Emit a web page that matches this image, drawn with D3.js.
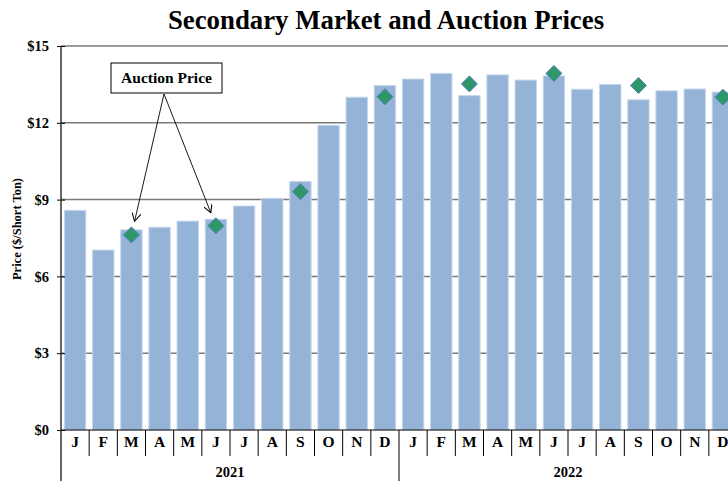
<!DOCTYPE html>
<html>
<head>
<meta charset="utf-8">
<script src="https://cdn.jsdelivr.net/npm/d3@7"></script>
<style>
  html, body { margin: 0; padding: 0; background: #fff; }
  svg { display: block; font-family: "Liberation Serif", "Times New Roman", serif; font-weight: bold; }
</style>
</head>
<body>
<div id="chart"></div>
<script>
// Datos
const years = ["2021", "2022"];
const months = ["J", "F", "M", "A", "M", "J", "J", "A", "S", "O", "N", "D"];
const secondary2021 = [8.58, 7.03, 7.82, 7.92, 8.16, 8.23, 8.75, 9.05, 9.71, 11.90, 13.00, 13.46];
const secondary2022 = [13.71, 13.93, 13.06, 13.87, 13.67, 13.83, 13.31, 13.50, 12.90, 13.25, 13.32, 13.20];
const auction2021 = [null, null, 7.62, null, null, 7.98, null, null, 9.31, null, null, 13.02];
const auction2022 = [null, null, 13.52, null, null, 13.93, null, null, 13.46, null, null, 13.00];
const yTicks = [0, 3, 6, 9, 12, 15];

// Una fila por mes
const data = [];
years.forEach((yr, yi) => {
    const sec = yi === 0 ? secondary2021 : secondary2022;
    const auc = yi === 0 ? auction2021 : auction2022;
    months.forEach((m, i) => {
        data.push({ key: yr + "-" + i, month: m, year: yr, value: sec[i], auction: auc[i] });
    });
});

const width = 728;
const height = 481;
const margin = { top: 46, left: 61 };
const plotW = 676;   // se sale del recuadro por la derecha, como el original
const plotH = 384;

const svg = d3.select("#chart")
    .append("svg")
    .attr("width", width)
    .attr("height", height);

const x = d3.scaleBand()
    .domain(data.map(d => d.key))
    .range([margin.left, margin.left + plotW])
    .paddingInner(0.24)
    .paddingOuter(0.12);

const y = d3.scaleLinear()
    .domain([0, 15])
    .range([margin.top + plotH, margin.top]);

const step = x.step();
const bandStart = d => x(d.key) - x.paddingOuter() * step;

// Titulo
svg.append("text")
    .attr("x", 386)
    .attr("y", 29)
    .attr("text-anchor", "middle")
    .attr("font-size", 26.8)
    .text("Secondary Market and Auction Prices");

// Lineas de cuadricula
svg.append("g")
    .selectAll("line")
    .data(yTicks.filter(t => t > 0))
    .enter().append("line")
    .attr("x1", margin.left)
    .attr("x2", margin.left + plotW)
    .attr("y1", d => y(d))
    .attr("y2", d => y(d))
    .attr("stroke", "#7a7a7a")
    .attr("stroke-width", 1.5);

// Barras
svg.append("g")
    .selectAll("rect")
    .data(data)
    .enter().append("rect")
    .attr("x", d => x(d.key))
    .attr("y", d => y(d.value))
    .attr("width", x.bandwidth())
    .attr("height", d => y(0) - y(d.value))
    .attr("fill", "#95b3d7")
    .attr("stroke", "#c6d7ec")
    .attr("stroke-width", 1);

// Eje Y
const yAxis = svg.append("g")
    .attr("transform", `translate(${margin.left},0)`)
    .call(d3.axisLeft(y).tickValues(yTicks).tickSize(0).tickFormat(d => "$" + d));
yAxis.select(".domain").remove();
yAxis.selectAll("text")
    .attr("x", -12)
    .attr("font-size", 14.5)
    .attr("font-family", "Liberation Serif, Times New Roman, serif")
    .attr("font-weight", "bold")
    .attr("fill", "#000");
yAxis.selectAll(".tick")
    .append("line")
    .attr("x1", -4)
    .attr("x2", 4)
    .attr("stroke", "#000");

svg.append("line")
    .attr("x1", margin.left).attr("x2", margin.left)
    .attr("y1", margin.top).attr("y2", height)
    .attr("stroke", "#333").attr("stroke-width", 1.5);

svg.append("text")
    .attr("transform", "translate(21,229) rotate(-90)")
    .attr("text-anchor", "middle")
    .attr("font-size", 12.5)
    .text("Price ($/Short Ton)");

// Eje X
svg.append("line")
    .attr("x1", margin.left).attr("x2", margin.left + plotW)
    .attr("y1", y(0)).attr("y2", y(0))
    .attr("stroke", "#000").attr("stroke-width", 1.2);

svg.append("g")
    .selectAll("line")
    .data(data.filter((d, i) => i > 0))
    .enter().append("line")
    .attr("x1", d => bandStart(d))
    .attr("x2", d => bandStart(d))
    .attr("y1", y(0))
    .attr("y2", d => d.key.endsWith("-0") ? height : y(0) + 26)
    .attr("stroke", "#000")
    .attr("stroke-width", 1);

svg.append("g")
    .selectAll("text")
    .data(data)
    .enter().append("text")
    .attr("x", d => x(d.key) + x.bandwidth() / 2)
    .attr("y", y(0) + 17)
    .attr("text-anchor", "middle")
    .attr("font-size", 15.5)
    .text(d => d.month);

svg.append("g")
    .selectAll("text")
    .data(years)
    .enter().append("text")
    .attr("x", d => {
        const first = x(d + "-0") - x.paddingOuter() * step;
        return first + step * months.length / 2;
    })
    .attr("y", 477)
    .attr("text-anchor", "middle")
    .attr("font-size", 14.5)
    .text(d => d);

// Precio de subasta (rombos)
const auctionPts = data.filter(d => d.auction !== null);
svg.append("g")
    .selectAll("path")
    .data(auctionPts)
    .enter().append("path")
    .attr("transform", d => `translate(${x(d.key) + x.bandwidth() / 2},${y(d.auction)})`)
    .attr("d", "M0,-8L8,0L0,8L-8,0Z")
    .attr("fill", "#2f9669")
    .attr("stroke", "#4f81bd")
    .attr("stroke-width", 1);

// Anotacion
svg.append("defs").append("marker")
    .attr("id", "arrow")
    .attr("viewBox", "0 0 10 10")
    .attr("refX", 9).attr("refY", 5)
    .attr("markerWidth", 9).attr("markerHeight", 9)
    .attr("markerUnits", "userSpaceOnUse")
    .attr("orient", "auto")
    .append("path")
    .attr("d", "M0,0L9,5L0,10")
    .attr("fill", "none")
    .attr("stroke", "#000")
    .attr("stroke-width", 1.2);

svg.append("rect")
    .attr("x", 111).attr("y", 63)
    .attr("width", 111).attr("height", 30)
    .attr("fill", "#fff")
    .attr("stroke", "#000");

svg.append("text")
    .attr("x", 166.5).attr("y", 83)
    .attr("text-anchor", "middle")
    .attr("font-size", 15.5)
    .text("Auction Price");

const start = [164, 94];
svg.append("g")
    .selectAll("line")
    .data(auctionPts.slice(0, 2))
    .enter().append("line")
    .each(function (d) {
        const cx = x(d.key) + x.bandwidth() / 2;
        const cy = y(d.auction);
        const dx = cx - start[0], dy = cy - start[1];
        const len = Math.sqrt(dx * dx + dy * dy);
        const back = 14;
        d3.select(this)
            .attr("x1", start[0]).attr("y1", start[1])
            .attr("x2", cx - dx / len * back)
            .attr("y2", cy - dy / len * back);
    })
    .attr("stroke", "#000")
    .attr("stroke-width", 0.9)
    .attr("marker-end", "url(#arrow)");
</script>
</body>
</html>
